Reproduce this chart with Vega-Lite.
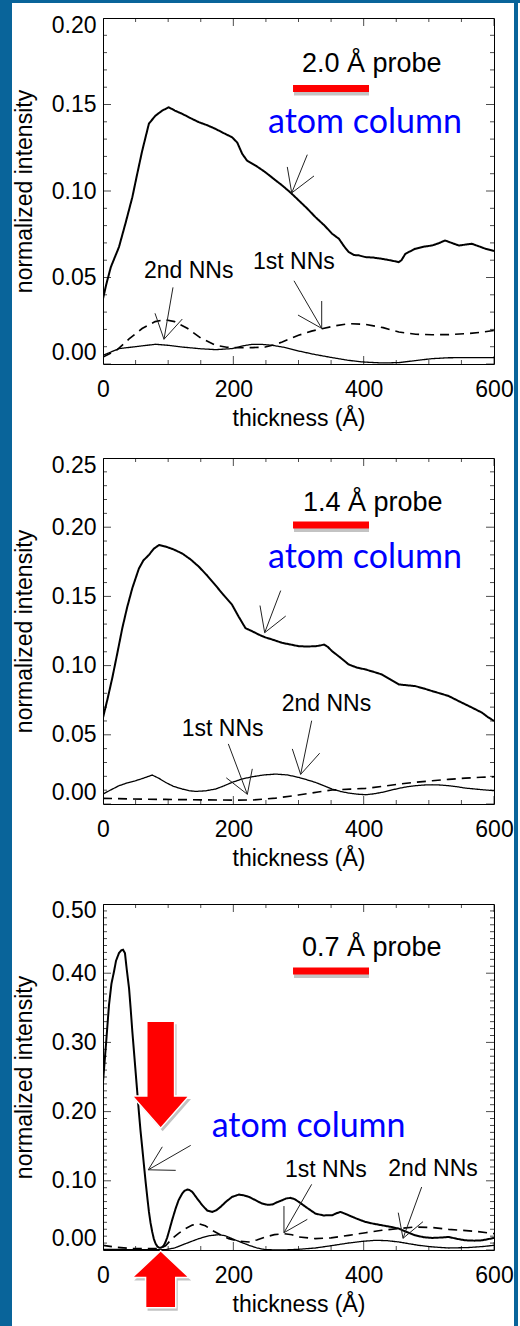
{
"$schema":"https://vega.github.io/schema/vega-lite/v6.json",
"background":"white","padding":0,"autosize":{"type":"pad"},
"config":{"font":"Liberation Sans","view":{"stroke":"black","strokeWidth":1},"axis":{"minExtent":0,"grid":false,"labelColor":"black","titleColor":"black","labelFont":"Liberation Sans","titleFont":"Liberation Sans"},"concat":{"spacing":0}},
"datasets":{
"curves":[
{"p":1,"s":"atom","x":0,"y":0.0377},{"p":1,"s":"atom","x":5,"y":0.046},{"p":1,"s":"atom","x":12,"y":0.056},{"p":1,"s":"atom","x":24.5,"y":0.0676},{"p":1,"s":"atom","x":35,"y":0.082},{"p":1,"s":"atom","x":45,"y":0.0964},{"p":1,"s":"atom","x":52,"y":0.109},{"p":1,"s":"atom","x":60,"y":0.123},{"p":1,"s":"atom","x":70.5,"y":0.139},{"p":1,"s":"atom","x":80.7,"y":0.1436},{"p":1,"s":"atom","x":91,"y":0.1465},{"p":1,"s":"atom","x":101,"y":0.1484},{"p":1,"s":"atom","x":110,"y":0.1465},{"p":1,"s":"atom","x":121.6,"y":0.1446},{"p":1,"s":"atom","x":135,"y":0.142},{"p":1,"s":"atom","x":147,"y":0.1398},{"p":1,"s":"atom","x":160,"y":0.138},{"p":1,"s":"atom","x":172.7,"y":0.1359},{"p":1,"s":"atom","x":185,"y":0.1335},{"p":1,"s":"atom","x":198,"y":0.1311},{"p":1,"s":"atom","x":206,"y":0.128},{"p":1,"s":"atom","x":213.6,"y":0.1215},{"p":1,"s":"atom","x":221,"y":0.1176},{"p":1,"s":"atom","x":235,"y":0.1145},{"p":1,"s":"atom","x":249,"y":0.1109},{"p":1,"s":"atom","x":262,"y":0.107},{"p":1,"s":"atom","x":275,"y":0.1032},{"p":1,"s":"atom","x":288,"y":0.099},{"p":1,"s":"atom","x":300.5,"y":0.0945},{"p":1,"s":"atom","x":313,"y":0.09},{"p":1,"s":"atom","x":326,"y":0.0849},{"p":1,"s":"atom","x":340,"y":0.08},{"p":1,"s":"atom","x":351.6,"y":0.0753},{"p":1,"s":"atom","x":362,"y":0.0724},{"p":1,"s":"atom","x":370,"y":0.068},{"p":1,"s":"atom","x":377,"y":0.0647},{"p":1,"s":"atom","x":385,"y":0.063},{"p":1,"s":"atom","x":392.5,"y":0.0628},{"p":1,"s":"atom","x":402.7,"y":0.0618},{"p":1,"s":"atom","x":415,"y":0.0615},{"p":1,"s":"atom","x":428,"y":0.0608},{"p":1,"s":"atom","x":440,"y":0.06},{"p":1,"s":"atom","x":453.8,"y":0.0589},{"p":1,"s":"atom","x":458,"y":0.06},{"p":1,"s":"atom","x":464,"y":0.0637},{"p":1,"s":"atom","x":479,"y":0.0666},{"p":1,"s":"atom","x":492,"y":0.0678},{"p":1,"s":"atom","x":505,"y":0.0685},{"p":1,"s":"atom","x":515,"y":0.0698},{"p":1,"s":"atom","x":525,"y":0.0714},{"p":1,"s":"atom","x":535,"y":0.07},{"p":1,"s":"atom","x":546,"y":0.0685},{"p":1,"s":"atom","x":556,"y":0.069},{"p":1,"s":"atom","x":566,"y":0.0695},{"p":1,"s":"atom","x":577,"y":0.068},{"p":1,"s":"atom","x":587,"y":0.0666},{"p":1,"s":"atom","x":600,"y":0.0653},
{"p":1,"s":"1st","x":0,"y":0.004},{"p":1,"s":"1st","x":22,"y":0.0083},{"p":1,"s":"1st","x":40,"y":0.0145},{"p":1,"s":"1st","x":60,"y":0.0205},{"p":1,"s":"1st","x":80,"y":0.0245},{"p":1,"s":"1st","x":95,"y":0.0256},{"p":1,"s":"1st","x":110,"y":0.0245},{"p":1,"s":"1st","x":130,"y":0.0205},{"p":1,"s":"1st","x":150,"y":0.015},{"p":1,"s":"1st","x":173,"y":0.0108},{"p":1,"s":"1st","x":190,"y":0.0097},{"p":1,"s":"1st","x":208.5,"y":0.0094},{"p":1,"s":"1st","x":230,"y":0.0095},{"p":1,"s":"1st","x":249,"y":0.0098},{"p":1,"s":"1st","x":262,"y":0.011},{"p":1,"s":"1st","x":275,"y":0.0127},{"p":1,"s":"1st","x":300,"y":0.0166},{"p":1,"s":"1st","x":320,"y":0.019},{"p":1,"s":"1st","x":336,"y":0.0204},{"p":1,"s":"1st","x":355,"y":0.022},{"p":1,"s":"1st","x":377,"y":0.0233},{"p":1,"s":"1st","x":403,"y":0.0229},{"p":1,"s":"1st","x":430,"y":0.021},{"p":1,"s":"1st","x":454,"y":0.0185},{"p":1,"s":"1st","x":480,"y":0.0172},{"p":1,"s":"1st","x":505,"y":0.0169},{"p":1,"s":"1st","x":530,"y":0.017},{"p":1,"s":"1st","x":556,"y":0.0175},{"p":1,"s":"1st","x":580,"y":0.0183},{"p":1,"s":"1st","x":600,"y":0.0194},
{"p":1,"s":"2nd","x":0,"y":0.005},{"p":1,"s":"2nd","x":24.5,"y":0.0089},{"p":1,"s":"2nd","x":45,"y":0.0098},{"p":1,"s":"2nd","x":65,"y":0.0107},{"p":1,"s":"2nd","x":80.7,"y":0.0114},{"p":1,"s":"2nd","x":100,"y":0.0108},{"p":1,"s":"2nd","x":121.6,"y":0.0098},{"p":1,"s":"2nd","x":150,"y":0.0088},{"p":1,"s":"2nd","x":172.7,"y":0.0083},{"p":1,"s":"2nd","x":198,"y":0.0089},{"p":1,"s":"2nd","x":215,"y":0.0105},{"p":1,"s":"2nd","x":229,"y":0.0114},{"p":1,"s":"2nd","x":245,"y":0.0113},{"p":1,"s":"2nd","x":260,"y":0.0108},{"p":1,"s":"2nd","x":280,"y":0.0095},{"p":1,"s":"2nd","x":300.5,"y":0.0075},{"p":1,"s":"2nd","x":325,"y":0.0055},{"p":1,"s":"2nd","x":351.6,"y":0.0037},{"p":1,"s":"2nd","x":375,"y":0.0022},{"p":1,"s":"2nd","x":397.6,"y":0.0012},{"p":1,"s":"2nd","x":428,"y":0.0006},{"p":1,"s":"2nd","x":454,"y":0.0008},{"p":1,"s":"2nd","x":480,"y":0.002},{"p":1,"s":"2nd","x":505,"y":0.0031},{"p":1,"s":"2nd","x":530,"y":0.0036},{"p":1,"s":"2nd","x":556,"y":0.0037},{"p":1,"s":"2nd","x":600,"y":0.0037},
{"p":2,"s":"atom","x":0,"y":0.0624},{"p":2,"s":"atom","x":7,"y":0.076},{"p":2,"s":"atom","x":14.3,"y":0.0912},{"p":2,"s":"atom","x":22,"y":0.109},{"p":2,"s":"atom","x":29.6,"y":0.127},{"p":2,"s":"atom","x":37,"y":0.142},{"p":2,"s":"atom","x":45,"y":0.156},{"p":2,"s":"atom","x":55,"y":0.17},{"p":2,"s":"atom","x":62,"y":0.176},{"p":2,"s":"atom","x":70.5,"y":0.18},{"p":2,"s":"atom","x":78,"y":0.1845},{"p":2,"s":"atom","x":86,"y":0.1871},{"p":2,"s":"atom","x":96,"y":0.186},{"p":2,"s":"atom","x":108,"y":0.184},{"p":2,"s":"atom","x":121.6,"y":0.181},{"p":2,"s":"atom","x":135,"y":0.1765},{"p":2,"s":"atom","x":147,"y":0.1715},{"p":2,"s":"atom","x":160,"y":0.165},{"p":2,"s":"atom","x":172.7,"y":0.158},{"p":2,"s":"atom","x":185,"y":0.151},{"p":2,"s":"atom","x":198,"y":0.144},{"p":2,"s":"atom","x":208,"y":0.1355},{"p":2,"s":"atom","x":218.7,"y":0.127},{"p":2,"s":"atom","x":229,"y":0.1248},{"p":2,"s":"atom","x":240,"y":0.1222},{"p":2,"s":"atom","x":249,"y":0.1204},{"p":2,"s":"atom","x":262,"y":0.1185},{"p":2,"s":"atom","x":275,"y":0.1164},{"p":2,"s":"atom","x":288,"y":0.1152},{"p":2,"s":"atom","x":300.5,"y":0.114},{"p":2,"s":"atom","x":313,"y":0.1138},{"p":2,"s":"atom","x":326,"y":0.114},{"p":2,"s":"atom","x":333,"y":0.1145},{"p":2,"s":"atom","x":339,"y":0.1152},{"p":2,"s":"atom","x":345,"y":0.1135},{"p":2,"s":"atom","x":351.6,"y":0.1104},{"p":2,"s":"atom","x":365,"y":0.1055},{"p":2,"s":"atom","x":377,"y":0.1008},{"p":2,"s":"atom","x":390,"y":0.0985},{"p":2,"s":"atom","x":403,"y":0.0972},{"p":2,"s":"atom","x":415,"y":0.0955},{"p":2,"s":"atom","x":428,"y":0.0936},{"p":2,"s":"atom","x":441,"y":0.09},{"p":2,"s":"atom","x":454,"y":0.0864},{"p":2,"s":"atom","x":466,"y":0.0858},{"p":2,"s":"atom","x":479,"y":0.0852},{"p":2,"s":"atom","x":492,"y":0.0835},{"p":2,"s":"atom","x":505,"y":0.0816},{"p":2,"s":"atom","x":518,"y":0.0798},{"p":2,"s":"atom","x":530.5,"y":0.078},{"p":2,"s":"atom","x":543,"y":0.075},{"p":2,"s":"atom","x":556,"y":0.072},{"p":2,"s":"atom","x":569,"y":0.069},{"p":2,"s":"atom","x":581.6,"y":0.066},{"p":2,"s":"atom","x":590,"y":0.063},{"p":2,"s":"atom","x":600,"y":0.06},
{"p":2,"s":"2nd","x":0,"y":0.0072},{"p":2,"s":"2nd","x":12,"y":0.0102},{"p":2,"s":"2nd","x":24.5,"y":0.0132},{"p":2,"s":"2nd","x":37,"y":0.0152},{"p":2,"s":"2nd","x":50,"y":0.0168},{"p":2,"s":"2nd","x":63,"y":0.0188},{"p":2,"s":"2nd","x":75.6,"y":0.0209},{"p":2,"s":"2nd","x":86,"y":0.0185},{"p":2,"s":"2nd","x":96,"y":0.0156},{"p":2,"s":"2nd","x":108,"y":0.0128},{"p":2,"s":"2nd","x":121.6,"y":0.0108},{"p":2,"s":"2nd","x":132,"y":0.0096},{"p":2,"s":"2nd","x":142,"y":0.0091},{"p":2,"s":"2nd","x":157,"y":0.0095},{"p":2,"s":"2nd","x":172.7,"y":0.0108},{"p":2,"s":"2nd","x":185,"y":0.013},{"p":2,"s":"2nd","x":198,"y":0.0156},{"p":2,"s":"2nd","x":213,"y":0.018},{"p":2,"s":"2nd","x":229,"y":0.0197},{"p":2,"s":"2nd","x":247,"y":0.021},{"p":2,"s":"2nd","x":265,"y":0.0216},{"p":2,"s":"2nd","x":283,"y":0.021},{"p":2,"s":"2nd","x":300.5,"y":0.0192},{"p":2,"s":"2nd","x":313,"y":0.0175},{"p":2,"s":"2nd","x":326,"y":0.0156},{"p":2,"s":"2nd","x":340,"y":0.013},{"p":2,"s":"2nd","x":351.6,"y":0.0108},{"p":2,"s":"2nd","x":365,"y":0.009},{"p":2,"s":"2nd","x":377,"y":0.0079},{"p":2,"s":"2nd","x":390,"y":0.0071},{"p":2,"s":"2nd","x":403,"y":0.0067},{"p":2,"s":"2nd","x":415,"y":0.0073},{"p":2,"s":"2nd","x":428,"y":0.0084},{"p":2,"s":"2nd","x":441,"y":0.0099},{"p":2,"s":"2nd","x":454,"y":0.0113},{"p":2,"s":"2nd","x":466,"y":0.0124},{"p":2,"s":"2nd","x":479,"y":0.0132},{"p":2,"s":"2nd","x":492,"y":0.0137},{"p":2,"s":"2nd","x":505,"y":0.0139},{"p":2,"s":"2nd","x":518,"y":0.0137},{"p":2,"s":"2nd","x":530.5,"y":0.0132},{"p":2,"s":"2nd","x":543,"y":0.0125},{"p":2,"s":"2nd","x":556,"y":0.0115},{"p":2,"s":"2nd","x":578,"y":0.0105},{"p":2,"s":"2nd","x":600,"y":0.0096},
{"p":2,"s":"1st","x":0,"y":0.0041},{"p":2,"s":"1st","x":45,"y":0.0036},{"p":2,"s":"1st","x":96,"y":0.0033},{"p":2,"s":"1st","x":150,"y":0.003},{"p":2,"s":"1st","x":200,"y":0.0028},{"p":2,"s":"1st","x":230,"y":0.0029},{"p":2,"s":"1st","x":265,"y":0.0042},{"p":2,"s":"1st","x":300,"y":0.0065},{"p":2,"s":"1st","x":330,"y":0.0087},{"p":2,"s":"1st","x":351.6,"y":0.0101},{"p":2,"s":"1st","x":380,"y":0.0108},{"p":2,"s":"1st","x":403,"y":0.0113},{"p":2,"s":"1st","x":430,"y":0.0128},{"p":2,"s":"1st","x":454,"y":0.0144},{"p":2,"s":"1st","x":480,"y":0.0157},{"p":2,"s":"1st","x":505,"y":0.0168},{"p":2,"s":"1st","x":530,"y":0.0178},{"p":2,"s":"1st","x":556,"y":0.0187},{"p":2,"s":"1st","x":580,"y":0.0193},{"p":2,"s":"1st","x":600,"y":0.0197},
{"p":3,"s":"atom","x":0,"y":0.243},{"p":3,"s":"atom","x":4,"y":0.29},{"p":3,"s":"atom","x":9.2,"y":0.354},{"p":3,"s":"atom","x":13,"y":0.385},{"p":3,"s":"atom","x":16.9,"y":0.4025},{"p":3,"s":"atom","x":20,"y":0.418},{"p":3,"s":"atom","x":24.5,"y":0.429},{"p":3,"s":"atom","x":28,"y":0.433},{"p":3,"s":"atom","x":30.7,"y":0.434},{"p":3,"s":"atom","x":33.7,"y":0.429},{"p":3,"s":"atom","x":36.5,"y":0.405},{"p":3,"s":"atom","x":40,"y":0.378},{"p":3,"s":"atom","x":42.5,"y":0.348},{"p":3,"s":"atom","x":45,"y":0.316},{"p":3,"s":"atom","x":47.5,"y":0.287},{"p":3,"s":"atom","x":50,"y":0.258},{"p":3,"s":"atom","x":52.5,"y":0.229},{"p":3,"s":"atom","x":55,"y":0.2},{"p":3,"s":"atom","x":57.5,"y":0.173},{"p":3,"s":"atom","x":60.3,"y":0.147},{"p":3,"s":"atom","x":63,"y":0.121},{"p":3,"s":"atom","x":65.4,"y":0.0985},{"p":3,"s":"atom","x":68,"y":0.076},{"p":3,"s":"atom","x":70.5,"y":0.055},{"p":3,"s":"atom","x":73,"y":0.039},{"p":3,"s":"atom","x":75.6,"y":0.026},{"p":3,"s":"atom","x":78,"y":0.016},{"p":3,"s":"atom","x":80.7,"y":0.0092},{"p":3,"s":"atom","x":83.5,"y":0.005},{"p":3,"s":"atom","x":86,"y":0.0034},{"p":3,"s":"atom","x":88.5,"y":0.0032},{"p":3,"s":"atom","x":91,"y":0.0043},{"p":3,"s":"atom","x":93.5,"y":0.007},{"p":3,"s":"atom","x":96,"y":0.0116},{"p":3,"s":"atom","x":98.5,"y":0.018},{"p":3,"s":"atom","x":101,"y":0.026},{"p":3,"s":"atom","x":106,"y":0.043},{"p":3,"s":"atom","x":111.4,"y":0.0598},{"p":3,"s":"atom","x":116,"y":0.072},{"p":3,"s":"atom","x":121.6,"y":0.0816},{"p":3,"s":"atom","x":125,"y":0.0855},{"p":3,"s":"atom","x":129.3,"y":0.0874},{"p":3,"s":"atom","x":133,"y":0.0865},{"p":3,"s":"atom","x":137,"y":0.084},{"p":3,"s":"atom","x":144,"y":0.075},{"p":3,"s":"atom","x":152.3,"y":0.0647},{"p":3,"s":"atom","x":160,"y":0.057},{"p":3,"s":"atom","x":167.6,"y":0.055},{"p":3,"s":"atom","x":174,"y":0.0575},{"p":3,"s":"atom","x":180.4,"y":0.0623},{"p":3,"s":"atom","x":189,"y":0.07},{"p":3,"s":"atom","x":198,"y":0.0767},{"p":3,"s":"atom","x":208.5,"y":0.0801},{"p":3,"s":"atom","x":216,"y":0.079},{"p":3,"s":"atom","x":224,"y":0.0767},{"p":3,"s":"atom","x":234,"y":0.072},{"p":3,"s":"atom","x":244,"y":0.0671},{"p":3,"s":"atom","x":252,"y":0.0655},{"p":3,"s":"atom","x":259.6,"y":0.0656},{"p":3,"s":"atom","x":267,"y":0.069},{"p":3,"s":"atom","x":275,"y":0.0719},{"p":3,"s":"atom","x":281,"y":0.0745},{"p":3,"s":"atom","x":287.8,"y":0.0753},{"p":3,"s":"atom","x":294,"y":0.0735},{"p":3,"s":"atom","x":300.5,"y":0.0695},{"p":3,"s":"atom","x":313,"y":0.061},{"p":3,"s":"atom","x":326,"y":0.0526},{"p":3,"s":"atom","x":338,"y":0.05},{"p":3,"s":"atom","x":351.6,"y":0.0502},{"p":3,"s":"atom","x":358,"y":0.053},{"p":3,"s":"atom","x":364.4,"y":0.055},{"p":3,"s":"atom","x":370,"y":0.053},{"p":3,"s":"atom","x":377,"y":0.0502},{"p":3,"s":"atom","x":390,"y":0.045},{"p":3,"s":"atom","x":403,"y":0.0405},{"p":3,"s":"atom","x":415,"y":0.038},{"p":3,"s":"atom","x":428,"y":0.0357},{"p":3,"s":"atom","x":441,"y":0.0335},{"p":3,"s":"atom","x":454,"y":0.0309},{"p":3,"s":"atom","x":466,"y":0.026},{"p":3,"s":"atom","x":479,"y":0.0212},{"p":3,"s":"atom","x":492,"y":0.0185},{"p":3,"s":"atom","x":505,"y":0.0174},{"p":3,"s":"atom","x":518,"y":0.018},{"p":3,"s":"atom","x":530.5,"y":0.0188},{"p":3,"s":"atom","x":543,"y":0.0162},{"p":3,"s":"atom","x":556,"y":0.014},{"p":3,"s":"atom","x":570,"y":0.0135},{"p":3,"s":"atom","x":581.6,"y":0.014},{"p":3,"s":"atom","x":590,"y":0.0155},{"p":3,"s":"atom","x":600,"y":0.0174},
{"p":3,"s":"1st","x":0,"y":0.0068},{"p":3,"s":"1st","x":20,"y":0.004},{"p":3,"s":"1st","x":45,"y":0.002},{"p":3,"s":"1st","x":86,"y":0.002},{"p":3,"s":"1st","x":96,"y":0.006},{"p":3,"s":"1st","x":106,"y":0.0164},{"p":3,"s":"1st","x":116,"y":0.024},{"p":3,"s":"1st","x":126.8,"y":0.0309},{"p":3,"s":"1st","x":137,"y":0.036},{"p":3,"s":"1st","x":147,"y":0.0381},{"p":3,"s":"1st","x":157,"y":0.035},{"p":3,"s":"1st","x":167.6,"y":0.0285},{"p":3,"s":"1st","x":180,"y":0.022},{"p":3,"s":"1st","x":193,"y":0.0164},{"p":3,"s":"1st","x":208,"y":0.013},{"p":3,"s":"1st","x":224,"y":0.0116},{"p":3,"s":"1st","x":236,"y":0.0145},{"p":3,"s":"1st","x":249,"y":0.0188},{"p":3,"s":"1st","x":263,"y":0.0222},{"p":3,"s":"1st","x":277.7,"y":0.0236},{"p":3,"s":"1st","x":290,"y":0.022},{"p":3,"s":"1st","x":300.5,"y":0.0188},{"p":3,"s":"1st","x":326,"y":0.0164},{"p":3,"s":"1st","x":350,"y":0.0175},{"p":3,"s":"1st","x":377,"y":0.0212},{"p":3,"s":"1st","x":403,"y":0.025},{"p":3,"s":"1st","x":428,"y":0.0285},{"p":3,"s":"1st","x":454,"y":0.031},{"p":3,"s":"1st","x":479,"y":0.0333},{"p":3,"s":"1st","x":505,"y":0.0325},{"p":3,"s":"1st","x":530.5,"y":0.0299},{"p":3,"s":"1st","x":550,"y":0.0285},{"p":3,"s":"1st","x":571,"y":0.027},{"p":3,"s":"1st","x":600,"y":0.0236},
{"p":3,"s":"2nd","x":0,"y":0.001},{"p":3,"s":"2nd","x":50,"y":0.0005},{"p":3,"s":"2nd","x":96,"y":0.0005},{"p":3,"s":"2nd","x":110,"y":0.003},{"p":3,"s":"2nd","x":126.8,"y":0.0092},{"p":3,"s":"2nd","x":147,"y":0.0164},{"p":3,"s":"2nd","x":162,"y":0.0205},{"p":3,"s":"2nd","x":178,"y":0.0222},{"p":3,"s":"2nd","x":188,"y":0.0205},{"p":3,"s":"2nd","x":198,"y":0.0164},{"p":3,"s":"2nd","x":211,"y":0.0115},{"p":3,"s":"2nd","x":224,"y":0.0068},{"p":3,"s":"2nd","x":236,"y":0.003},{"p":3,"s":"2nd","x":249,"y":0.0005},{"p":3,"s":"2nd","x":275,"y":0},{"p":3,"s":"2nd","x":300,"y":0.001},{"p":3,"s":"2nd","x":326,"y":0.0029},{"p":3,"s":"2nd","x":350,"y":0.0062},{"p":3,"s":"2nd","x":377,"y":0.0101},{"p":3,"s":"2nd","x":398,"y":0.0125},{"p":3,"s":"2nd","x":418,"y":0.014},{"p":3,"s":"2nd","x":436,"y":0.0135},{"p":3,"s":"2nd","x":454,"y":0.0116},{"p":3,"s":"2nd","x":470,"y":0.009},{"p":3,"s":"2nd","x":484,"y":0.0068},{"p":3,"s":"2nd","x":505,"y":0.0045},{"p":3,"s":"2nd","x":530.5,"y":0.0029},{"p":3,"s":"2nd","x":560,"y":0.0035},{"p":3,"s":"2nd","x":585,"y":0.0052},{"p":3,"s":"2nd","x":600,"y":0.0068}
],
"arrows":[
{"p":1,"x":313.5,"y":0.121,"x2":289.6,"y2":0.0989},{"p":1,"x":289.6,"y":0.0989,"x2":282.8,"y2":0.1139},{"p":1,"x":289.6,"y":0.0989,"x2":323.8,"y2":0.1087},
{"p":1,"x":107.4,"y":0.0443,"x2":93.6,"y2":0.0143},{"p":1,"x":93.6,"y":0.0143,"x2":79.8,"y2":0.0293},{"p":1,"x":93.6,"y":0.0143,"x2":121.7,"y2":0.026},
{"p":1,"x":293.1,"y":0.0481,"x2":335.6,"y2":0.0206},{"p":1,"x":335.6,"y":0.0206,"x2":299.2,"y2":0.0283},{"p":1,"x":335.6,"y":0.0206,"x2":335.6,"y2":0.0364},
{"p":2,"x":272.7,"y":0.1542,"x2":248.1,"y2":0.1238},{"p":2,"x":248.1,"y":0.1238,"x2":240.9,"y2":0.1434},{"p":2,"x":248.1,"y":0.1238,"x2":280.4,"y2":0.1358},
{"p":2,"x":192.3,"y":0.0434,"x2":221.5,"y2":0.007},{"p":2,"x":221.5,"y":0.007,"x2":189.2,"y2":0.0189},{"p":2,"x":221.5,"y":0.007,"x2":229.1,"y2":0.0254},
{"p":2,"x":320.2,"y":0.0602,"x2":303.3,"y2":0.0214},{"p":2,"x":303.3,"y":0.0214,"x2":290.5,"y2":0.0398},{"p":2,"x":303.3,"y":0.0214,"x2":332.5,"y2":0.0367},
{"p":3,"x":134.6,"y":0.1512,"x2":69.5,"y2":0.1159},{"p":3,"x":69.5,"y":0.1159,"x2":91,"y2":0.1491},{"p":3,"x":69.5,"y":0.1159,"x2":111.6,"y2":0.1151},
{"p":3,"x":320.2,"y":0.0949,"x2":277.7,"y2":0.025},{"p":3,"x":277.7,"y":0.025,"x2":277.7,"y2":0.0635},{"p":3,"x":277.7,"y":0.025,"x2":313.5,"y2":0.0443},
{"p":3,"x":489,"y":0.091,"x2":460.4,"y2":0.0169},{"p":3,"x":460.4,"y":0.0169,"x2":453.1,"y2":0.0539},{"p":3,"x":460.4,"y":0.0169,"x2":491,"y2":0.0409}
],
"labels":[
{"p":1,"kind":"probe","text":"2.0 Å probe","x":305.4,"y":0.169},{"p":1,"kind":"atom","text":"atom column","x":253.2,"y":0.1335},{"p":1,"kind":"nn","text":"2nd NNs","x":62.9,"y":0.0495},{"p":1,"kind":"nn","text":"1st NNs","x":230.2,"y":0.0552},
{"p":2,"kind":"probe","text":"1.4 Å probe","x":306.9,"y":0.2114},{"p":2,"kind":"atom","text":"atom column","x":253.2,"y":0.1706},{"p":2,"kind":"nn","text":"1st NNs","x":120.8,"y":0.0494},{"p":2,"kind":"nn","text":"2nd NNs","x":274.2,"y":0.0674},
{"p":3,"kind":"probe","text":"0.7 Å probe","x":305.4,"y":0.4245},{"p":3,"kind":"atom","text":"atom column","x":166.8,"y":0.163},{"p":3,"kind":"nn","text":"1st NNs","x":279.3,"y":0.1054},{"p":3,"kind":"nn","text":"2nd NNs","x":437.8,"y":0.1068}
],
"bars":[{"p":1,"x":291.6,"x2":408.2,"y":0.1593},{"p":2,"x":291.6,"x2":408.2,"y":0.2015},{"p":3,"x":291.6,"x2":408.2,"y":0.4033}],
"blocks":[{"dir":"down","x":88.5,"y":0.2534},{"dir":"up","x":88.5,"y":-0.0423}],
"xt":[{"v":0,"m":"major"},{"v":50,"m":"minor"},{"v":100,"m":"minor"},{"v":150,"m":"minor"},{"v":200,"m":"major"},{"v":250,"m":"minor"},{"v":300,"m":"minor"},{"v":350,"m":"minor"},{"v":400,"m":"major"},{"v":450,"m":"minor"},{"v":500,"m":"minor"},{"v":550,"m":"minor"},{"v":600,"m":"major"}],
"yt":[
{"p":1,"v":0,"m":"major"},{"p":1,"v":0.01,"m":"minor"},{"p":1,"v":0.02,"m":"minor"},{"p":1,"v":0.03,"m":"minor"},{"p":1,"v":0.04,"m":"minor"},{"p":1,"v":0.05,"m":"major"},{"p":1,"v":0.06,"m":"minor"},{"p":1,"v":0.07,"m":"minor"},{"p":1,"v":0.08,"m":"minor"},{"p":1,"v":0.09,"m":"minor"},{"p":1,"v":0.1,"m":"major"},{"p":1,"v":0.11,"m":"minor"},{"p":1,"v":0.12,"m":"minor"},{"p":1,"v":0.13,"m":"minor"},{"p":1,"v":0.14,"m":"minor"},{"p":1,"v":0.15,"m":"major"},{"p":1,"v":0.16,"m":"minor"},{"p":1,"v":0.17,"m":"minor"},{"p":1,"v":0.18,"m":"minor"},{"p":1,"v":0.19,"m":"minor"},{"p":1,"v":0.2,"m":"major"},
{"p":2,"v":0,"m":"major"},{"p":2,"v":0.01,"m":"minor"},{"p":2,"v":0.02,"m":"minor"},{"p":2,"v":0.03,"m":"minor"},{"p":2,"v":0.04,"m":"minor"},{"p":2,"v":0.05,"m":"major"},{"p":2,"v":0.06,"m":"minor"},{"p":2,"v":0.07,"m":"minor"},{"p":2,"v":0.08,"m":"minor"},{"p":2,"v":0.09,"m":"minor"},{"p":2,"v":0.1,"m":"major"},{"p":2,"v":0.11,"m":"minor"},{"p":2,"v":0.12,"m":"minor"},{"p":2,"v":0.13,"m":"minor"},{"p":2,"v":0.14,"m":"minor"},{"p":2,"v":0.15,"m":"major"},{"p":2,"v":0.16,"m":"minor"},{"p":2,"v":0.17,"m":"minor"},{"p":2,"v":0.18,"m":"minor"},{"p":2,"v":0.19,"m":"minor"},{"p":2,"v":0.2,"m":"major"},{"p":2,"v":0.21,"m":"minor"},{"p":2,"v":0.22,"m":"minor"},{"p":2,"v":0.23,"m":"minor"},{"p":2,"v":0.24,"m":"minor"},{"p":2,"v":0.25,"m":"major"},
{"p":3,"v":0,"m":"major"},{"p":3,"v":0.01,"m":"minor"},{"p":3,"v":0.02,"m":"minor"},{"p":3,"v":0.03,"m":"minor"},{"p":3,"v":0.04,"m":"minor"},{"p":3,"v":0.05,"m":"minor"},{"p":3,"v":0.06,"m":"minor"},{"p":3,"v":0.07,"m":"minor"},{"p":3,"v":0.08,"m":"minor"},{"p":3,"v":0.09,"m":"minor"},{"p":3,"v":0.1,"m":"major"},{"p":3,"v":0.11,"m":"minor"},{"p":3,"v":0.12,"m":"minor"},{"p":3,"v":0.13,"m":"minor"},{"p":3,"v":0.14,"m":"minor"},{"p":3,"v":0.15,"m":"minor"},{"p":3,"v":0.16,"m":"minor"},{"p":3,"v":0.17,"m":"minor"},{"p":3,"v":0.18,"m":"minor"},{"p":3,"v":0.19,"m":"minor"},{"p":3,"v":0.2,"m":"major"},{"p":3,"v":0.21,"m":"minor"},{"p":3,"v":0.22,"m":"minor"},{"p":3,"v":0.23,"m":"minor"},{"p":3,"v":0.24,"m":"minor"},{"p":3,"v":0.25,"m":"minor"},{"p":3,"v":0.26,"m":"minor"},{"p":3,"v":0.27,"m":"minor"},{"p":3,"v":0.28,"m":"minor"},{"p":3,"v":0.29,"m":"minor"},{"p":3,"v":0.3,"m":"major"},{"p":3,"v":0.31,"m":"minor"},{"p":3,"v":0.32,"m":"minor"},{"p":3,"v":0.33,"m":"minor"},{"p":3,"v":0.34,"m":"minor"},{"p":3,"v":0.35,"m":"minor"},{"p":3,"v":0.36,"m":"minor"},{"p":3,"v":0.37,"m":"minor"},{"p":3,"v":0.38,"m":"minor"},{"p":3,"v":0.39,"m":"minor"},{"p":3,"v":0.4,"m":"major"},{"p":3,"v":0.41,"m":"minor"},{"p":3,"v":0.42,"m":"minor"},{"p":3,"v":0.43,"m":"minor"},{"p":3,"v":0.44,"m":"minor"},{"p":3,"v":0.45,"m":"minor"},{"p":3,"v":0.46,"m":"minor"},{"p":3,"v":0.47,"m":"minor"},{"p":3,"v":0.48,"m":"minor"},{"p":3,"v":0.49,"m":"minor"},{"p":3,"v":0.5,"m":"major"}
],
"one":[{"k":1}]
},
"vconcat":[
{"width":520,"height":3,"view":{"stroke":null},"data":{"name":"one"},"mark":{"type":"rect","color":"#09649a"},
 "encoding":{"x":{"datum":0,"type":"quantitative","scale":{"domain":[0,1],"nice":false},"axis":null},"x2":{"datum":1},"y":{"datum":0,"type":"quantitative","scale":{"domain":[0,1],"nice":false},"axis":null},"y2":{"datum":1}}},
{"hconcat":[
{"width":12,"height":1323,"view":{"stroke":null},"data":{"name":"one"},"mark":{"type":"rect","color":"#09649a"},
 "encoding":{"x":{"datum":0,"type":"quantitative","scale":{"domain":[0,1],"nice":false,"zero":false},"axis":null},"x2":{"datum":1},"y":{"datum":0,"type":"quantitative","scale":{"domain":[0,1],"nice":false},"axis":null},"y2":{"datum":1}}},
{"spacing":9,"vconcat":[
 {"width":1,"height":1,"view":{"stroke":null},"data":{"name":"one"},"mark":{"type":"rect","opacity":0},
  "encoding":{"x":{"datum":0,"type":"quantitative","scale":{"domain":[0,1],"nice":false},"axis":null},"x2":{"datum":1},"y":{"datum":0,"type":"quantitative","scale":{"domain":[0,1],"nice":false},"axis":null},"y2":{"datum":1}}},
 {"spacing":22,"vconcat":[
  {"width":391,"height":346,"resolve":{"axis":{"x":"independent","y":"independent"}},"layer":[
   {"data":{"name":"curves"},"transform":[{"filter":"datum.p===1"}],"mark":{"type":"line","color":"black","clip":true},
    "encoding":{"x":{"field":"x","type":"quantitative","scale":{"domain":[0,600],"nice":false,"zero":false},"axis":{"orient":"bottom","values":[0,200,400,600],"format":"d","ticks":false,"domain":false,"labelFlush":false,"labelOverlap":false,"labelPadding":14,"labelFontSize":23,"title":"thickness (Å)","titleFontSize":23,"titleFontWeight":"normal","titlePadding":6}},
     "y":{"field":"y","type":"quantitative","scale":{"domain":[0,0.2],"nice":false,"zero":false},"axis":{"orient":"left","values":[0,0.05,0.1,0.15,0.2],"format":".2f","ticks":false,"domain":false,"labelFlush":false,"labelOverlap":false,"labelPadding":7,"labelFontSize":23,"labelBaseline":{"condition":{"test":"datum.value===0","value":"bottom"},"value":"middle"},"labelOffset":{"condition":{"test":"datum.value===0.2","value":7},"value":0},"title":"normalized intensity","titleFontSize":23,"titleFontWeight":"normal","titlePadding":15}},
     "strokeDash":{"field":"s","type":"nominal","scale":{"domain":["atom","1st","2nd"],"range":[[1,0],[9,6],[1,0]]},"legend":null},
     "strokeWidth":{"field":"s","type":"nominal","scale":{"domain":["atom","1st","2nd"],"range":[2,1.3,1.5]},"legend":null}}},
   {"data":{"name":"xt"},"mark":{"type":"tick","orient":"vertical","color":"black","thickness":1,"clip":true},
    "encoding":{"x":{"field":"v","type":"quantitative","scale":{"domain":[0,600],"nice":false,"zero":false},"axis":null},"y":{"datum":0,"type":"quantitative","scale":{"domain":[0,0.2],"nice":false,"zero":false},"axis":null},"size":{"field":"m","type":"ordinal","scale":{"domain":["major","minor"],"range":[16,8]},"legend":null}}},
   {"data":{"name":"xt"},"mark":{"type":"tick","orient":"vertical","color":"black","thickness":1,"clip":true},
    "encoding":{"x":{"field":"v","type":"quantitative","scale":{"domain":[0,600],"nice":false,"zero":false},"axis":null},"y":{"datum":0.2,"type":"quantitative","scale":{"domain":[0,0.2],"nice":false,"zero":false},"axis":null},"size":{"field":"m","type":"ordinal","scale":{"domain":["major","minor"],"range":[16,8]},"legend":null}}},
   {"data":{"name":"yt"},"transform":[{"filter":"datum.p===1"}],"mark":{"type":"tick","orient":"horizontal","color":"black","thickness":1,"clip":true},
    "encoding":{"y":{"field":"v","type":"quantitative","scale":{"domain":[0,0.2],"nice":false,"zero":false},"axis":null},"x":{"datum":0,"type":"quantitative","scale":{"domain":[0,600],"nice":false,"zero":false},"axis":null},"size":{"field":"m","type":"ordinal","scale":{"domain":["major","minor"],"range":[16,8]},"legend":null}}},
   {"data":{"name":"yt"},"transform":[{"filter":"datum.p===1"}],"mark":{"type":"tick","orient":"horizontal","color":"black","thickness":1,"clip":true},
    "encoding":{"y":{"field":"v","type":"quantitative","scale":{"domain":[0,0.2],"nice":false,"zero":false},"axis":null},"x":{"datum":600,"type":"quantitative","scale":{"domain":[0,600],"nice":false,"zero":false},"axis":null},"size":{"field":"m","type":"ordinal","scale":{"domain":["major","minor"],"range":[16,8]},"legend":null}}},
   {"data":{"name":"arrows"},"transform":[{"filter":"datum.p===1"}],"mark":{"type":"rule","color":"#222","strokeWidth":1},
    "encoding":{"x":{"field":"x","type":"quantitative","scale":{"domain":[0,600],"nice":false,"zero":false},"axis":null},"x2":{"field":"x2"},
     "y":{"field":"y","type":"quantitative","scale":{"domain":[0,0.2],"nice":false,"zero":false},"axis":null},"y2":{"field":"y2"}}},
   {"data":{"name":"labels"},"transform":[{"filter":"datum.p===1 && datum.kind==='nn'"}],"mark":{"type":"text","font":"Liberation Sans","fontSize":23,"align":"left","baseline":"alphabetic","color":"black"},
    "encoding":{"x":{"field":"x","type":"quantitative","scale":{"domain":[0,600],"nice":false,"zero":false},"axis":null},
     "y":{"field":"y","type":"quantitative","scale":{"domain":[0,0.2],"nice":false,"zero":false},"axis":null},"text":{"field":"text"}}},
   {"data":{"name":"labels"},"transform":[{"filter":"datum.p===1 && datum.kind==='probe'"}],"mark":{"type":"text","font":"Liberation Sans","fontSize":27,"align":"left","baseline":"alphabetic","color":"black"},
    "encoding":{"x":{"field":"x","type":"quantitative","scale":{"domain":[0,600],"nice":false,"zero":false},"axis":null},
     "y":{"field":"y","type":"quantitative","scale":{"domain":[0,0.2],"nice":false,"zero":false},"axis":null},"text":{"field":"text"}}},
   {"data":{"name":"bars"},"transform":[{"filter":"datum.p===1"}],"mark":{"type":"rule","color":"#888","opacity":0.5,"strokeWidth":6,"yOffset":4,"xOffset":1},
    "encoding":{"x":{"field":"x","type":"quantitative","scale":{"domain":[0,600],"nice":false,"zero":false},"axis":null},"x2":{"field":"x2"},
     "y":{"field":"y","type":"quantitative","scale":{"domain":[0,0.2],"nice":false,"zero":false},"axis":null}}},
   {"data":{"name":"bars"},"transform":[{"filter":"datum.p===1"}],"mark":{"type":"rule","color":"#ff0000","strokeWidth":7},
    "encoding":{"x":{"field":"x","type":"quantitative","scale":{"domain":[0,600],"nice":false,"zero":false},"axis":null},"x2":{"field":"x2"},
     "y":{"field":"y","type":"quantitative","scale":{"domain":[0,0.2],"nice":false,"zero":false},"axis":null}}},
   {"data":{"name":"labels"},"transform":[{"filter":"datum.p===1 && datum.kind==='atom'"}],"mark":{"type":"text","font":"Lato","fontSize":34,"align":"left","baseline":"alphabetic","color":"#0000ff"},
    "encoding":{"x":{"field":"x","type":"quantitative","scale":{"domain":[0,600],"nice":false,"zero":false},"axis":null},
     "y":{"field":"y","type":"quantitative","scale":{"domain":[0,0.2],"nice":false,"zero":false},"axis":null},"text":{"field":"text"}}}
  ]},
  {"spacing":27,"vconcat":[
  {"width":391,"height":346,"resolve":{"axis":{"x":"independent","y":"independent"}},"layer":[
   {"data":{"name":"curves"},"transform":[{"filter":"datum.p===2"}],"mark":{"type":"line","color":"black","clip":true},
    "encoding":{"x":{"field":"x","type":"quantitative","scale":{"domain":[0,600],"nice":false,"zero":false},"axis":{"orient":"bottom","values":[0,200,400,600],"format":"d","ticks":false,"domain":false,"labelFlush":false,"labelOverlap":false,"labelPadding":14,"labelFontSize":23,"title":"thickness (Å)","titleFontSize":23,"titleFontWeight":"normal","titlePadding":6}},
     "y":{"field":"y","type":"quantitative","scale":{"domain":[0,0.25],"nice":false,"zero":false},"axis":{"orient":"left","values":[0,0.05,0.1,0.15,0.2,0.25],"format":".2f","ticks":false,"domain":false,"labelFlush":false,"labelOverlap":false,"labelPadding":7,"labelFontSize":23,"labelBaseline":{"condition":{"test":"datum.value===0","value":"bottom"},"value":"middle"},"labelOffset":{"condition":{"test":"datum.value===0.25","value":7},"value":0},"title":"normalized intensity","titleFontSize":23,"titleFontWeight":"normal","titlePadding":15}},
     "strokeDash":{"field":"s","type":"nominal","scale":{"domain":["atom","1st","2nd"],"range":[[1,0],[9,6],[1,0]]},"legend":null},
     "strokeWidth":{"field":"s","type":"nominal","scale":{"domain":["atom","1st","2nd"],"range":[2,1.3,1.5]},"legend":null}}},
   {"data":{"name":"xt"},"mark":{"type":"tick","orient":"vertical","color":"black","thickness":1,"clip":true},
    "encoding":{"x":{"field":"v","type":"quantitative","scale":{"domain":[0,600],"nice":false,"zero":false},"axis":null},"y":{"datum":0,"type":"quantitative","scale":{"domain":[0,0.25],"nice":false,"zero":false},"axis":null},"size":{"field":"m","type":"ordinal","scale":{"domain":["major","minor"],"range":[16,8]},"legend":null}}},
   {"data":{"name":"xt"},"mark":{"type":"tick","orient":"vertical","color":"black","thickness":1,"clip":true},
    "encoding":{"x":{"field":"v","type":"quantitative","scale":{"domain":[0,600],"nice":false,"zero":false},"axis":null},"y":{"datum":0.25,"type":"quantitative","scale":{"domain":[0,0.25],"nice":false,"zero":false},"axis":null},"size":{"field":"m","type":"ordinal","scale":{"domain":["major","minor"],"range":[16,8]},"legend":null}}},
   {"data":{"name":"yt"},"transform":[{"filter":"datum.p===2"}],"mark":{"type":"tick","orient":"horizontal","color":"black","thickness":1,"clip":true},
    "encoding":{"y":{"field":"v","type":"quantitative","scale":{"domain":[0,0.25],"nice":false,"zero":false},"axis":null},"x":{"datum":0,"type":"quantitative","scale":{"domain":[0,600],"nice":false,"zero":false},"axis":null},"size":{"field":"m","type":"ordinal","scale":{"domain":["major","minor"],"range":[16,8]},"legend":null}}},
   {"data":{"name":"yt"},"transform":[{"filter":"datum.p===2"}],"mark":{"type":"tick","orient":"horizontal","color":"black","thickness":1,"clip":true},
    "encoding":{"y":{"field":"v","type":"quantitative","scale":{"domain":[0,0.25],"nice":false,"zero":false},"axis":null},"x":{"datum":600,"type":"quantitative","scale":{"domain":[0,600],"nice":false,"zero":false},"axis":null},"size":{"field":"m","type":"ordinal","scale":{"domain":["major","minor"],"range":[16,8]},"legend":null}}},
   {"data":{"name":"arrows"},"transform":[{"filter":"datum.p===2"}],"mark":{"type":"rule","color":"#222","strokeWidth":1},
    "encoding":{"x":{"field":"x","type":"quantitative","scale":{"domain":[0,600],"nice":false,"zero":false},"axis":null},"x2":{"field":"x2"},
     "y":{"field":"y","type":"quantitative","scale":{"domain":[0,0.25],"nice":false,"zero":false},"axis":null},"y2":{"field":"y2"}}},
   {"data":{"name":"labels"},"transform":[{"filter":"datum.p===2 && datum.kind==='nn'"}],"mark":{"type":"text","font":"Liberation Sans","fontSize":23,"align":"left","baseline":"alphabetic","color":"black"},
    "encoding":{"x":{"field":"x","type":"quantitative","scale":{"domain":[0,600],"nice":false,"zero":false},"axis":null},
     "y":{"field":"y","type":"quantitative","scale":{"domain":[0,0.25],"nice":false,"zero":false},"axis":null},"text":{"field":"text"}}},
   {"data":{"name":"labels"},"transform":[{"filter":"datum.p===2 && datum.kind==='probe'"}],"mark":{"type":"text","font":"Liberation Sans","fontSize":27,"align":"left","baseline":"alphabetic","color":"black"},
    "encoding":{"x":{"field":"x","type":"quantitative","scale":{"domain":[0,600],"nice":false,"zero":false},"axis":null},
     "y":{"field":"y","type":"quantitative","scale":{"domain":[0,0.25],"nice":false,"zero":false},"axis":null},"text":{"field":"text"}}},
   {"data":{"name":"bars"},"transform":[{"filter":"datum.p===2"}],"mark":{"type":"rule","color":"#888","opacity":0.5,"strokeWidth":6,"yOffset":4,"xOffset":1},
    "encoding":{"x":{"field":"x","type":"quantitative","scale":{"domain":[0,600],"nice":false,"zero":false},"axis":null},"x2":{"field":"x2"},
     "y":{"field":"y","type":"quantitative","scale":{"domain":[0,0.25],"nice":false,"zero":false},"axis":null}}},
   {"data":{"name":"bars"},"transform":[{"filter":"datum.p===2"}],"mark":{"type":"rule","color":"#ff0000","strokeWidth":7},
    "encoding":{"x":{"field":"x","type":"quantitative","scale":{"domain":[0,600],"nice":false,"zero":false},"axis":null},"x2":{"field":"x2"},
     "y":{"field":"y","type":"quantitative","scale":{"domain":[0,0.25],"nice":false,"zero":false},"axis":null}}},
   {"data":{"name":"labels"},"transform":[{"filter":"datum.p===2 && datum.kind==='atom'"}],"mark":{"type":"text","font":"Lato","fontSize":34,"align":"left","baseline":"alphabetic","color":"#0000ff"},
    "encoding":{"x":{"field":"x","type":"quantitative","scale":{"domain":[0,600],"nice":false,"zero":false},"axis":null},
     "y":{"field":"y","type":"quantitative","scale":{"domain":[0,0.25],"nice":false,"zero":false},"axis":null},"text":{"field":"text"}}}
  ]},
  {"width":391,"height":346,"resolve":{"axis":{"x":"independent","y":"independent"}},"layer":[
   {"data":{"name":"curves"},"transform":[{"filter":"datum.p===3"}],"mark":{"type":"line","color":"black","clip":true},
    "encoding":{"x":{"field":"x","type":"quantitative","scale":{"domain":[0,600],"nice":false,"zero":false},"axis":{"orient":"bottom","values":[0,200,400,600],"format":"d","ticks":false,"domain":false,"labelFlush":false,"labelOverlap":false,"labelPadding":14,"labelFontSize":23,"title":"thickness (Å)","titleFontSize":23,"titleFontWeight":"normal","titlePadding":6}},
     "y":{"field":"y","type":"quantitative","scale":{"domain":[0,0.5],"nice":false,"zero":false},"axis":{"orient":"left","values":[0,0.1,0.2,0.3,0.4,0.5],"format":".2f","ticks":false,"domain":false,"labelFlush":false,"labelOverlap":false,"labelPadding":7,"labelFontSize":23,"labelBaseline":{"condition":{"test":"datum.value===0","value":"bottom"},"value":"middle"},"labelOffset":{"condition":{"test":"datum.value===0.5","value":6},"value":0},"title":"normalized intensity","titleFontSize":23,"titleFontWeight":"normal","titlePadding":15}},
     "strokeDash":{"field":"s","type":"nominal","scale":{"domain":["atom","1st","2nd"],"range":[[1,0],[9,6],[1,0]]},"legend":null},
     "strokeWidth":{"field":"s","type":"nominal","scale":{"domain":["atom","1st","2nd"],"range":[1.8,1.3,1.5]},"legend":null}}},
   {"data":{"name":"xt"},"mark":{"type":"tick","orient":"vertical","color":"black","thickness":1,"clip":true},
    "encoding":{"x":{"field":"v","type":"quantitative","scale":{"domain":[0,600],"nice":false,"zero":false},"axis":null},"y":{"datum":0,"type":"quantitative","scale":{"domain":[0,0.5],"nice":false,"zero":false},"axis":null},"size":{"field":"m","type":"ordinal","scale":{"domain":["major","minor"],"range":[16,8]},"legend":null}}},
   {"data":{"name":"xt"},"mark":{"type":"tick","orient":"vertical","color":"black","thickness":1,"clip":true},
    "encoding":{"x":{"field":"v","type":"quantitative","scale":{"domain":[0,600],"nice":false,"zero":false},"axis":null},"y":{"datum":0.5,"type":"quantitative","scale":{"domain":[0,0.5],"nice":false,"zero":false},"axis":null},"size":{"field":"m","type":"ordinal","scale":{"domain":["major","minor"],"range":[16,8]},"legend":null}}},
   {"data":{"name":"yt"},"transform":[{"filter":"datum.p===3"}],"mark":{"type":"tick","orient":"horizontal","color":"black","thickness":1,"clip":true},
    "encoding":{"y":{"field":"v","type":"quantitative","scale":{"domain":[0,0.5],"nice":false,"zero":false},"axis":null},"x":{"datum":0,"type":"quantitative","scale":{"domain":[0,600],"nice":false,"zero":false},"axis":null},"size":{"field":"m","type":"ordinal","scale":{"domain":["major","minor"],"range":[16,8]},"legend":null}}},
   {"data":{"name":"yt"},"transform":[{"filter":"datum.p===3"}],"mark":{"type":"tick","orient":"horizontal","color":"black","thickness":1,"clip":true},
    "encoding":{"y":{"field":"v","type":"quantitative","scale":{"domain":[0,0.5],"nice":false,"zero":false},"axis":null},"x":{"datum":600,"type":"quantitative","scale":{"domain":[0,600],"nice":false,"zero":false},"axis":null},"size":{"field":"m","type":"ordinal","scale":{"domain":["major","minor"],"range":[16,8]},"legend":null}}},
   {"data":{"name":"arrows"},"transform":[{"filter":"datum.p===3"}],"mark":{"type":"rule","color":"#222","strokeWidth":1},
    "encoding":{"x":{"field":"x","type":"quantitative","scale":{"domain":[0,600],"nice":false,"zero":false},"axis":null},"x2":{"field":"x2"},
     "y":{"field":"y","type":"quantitative","scale":{"domain":[0,0.5],"nice":false,"zero":false},"axis":null},"y2":{"field":"y2"}}},
   {"data":{"name":"labels"},"transform":[{"filter":"datum.p===3 && datum.kind==='nn'"}],"mark":{"type":"text","font":"Liberation Sans","fontSize":23,"align":"left","baseline":"alphabetic","color":"black"},
    "encoding":{"x":{"field":"x","type":"quantitative","scale":{"domain":[0,600],"nice":false,"zero":false},"axis":null},
     "y":{"field":"y","type":"quantitative","scale":{"domain":[0,0.5],"nice":false,"zero":false},"axis":null},"text":{"field":"text"}}},
   {"data":{"name":"labels"},"transform":[{"filter":"datum.p===3 && datum.kind==='probe'"}],"mark":{"type":"text","font":"Liberation Sans","fontSize":27,"align":"left","baseline":"alphabetic","color":"black"},
    "encoding":{"x":{"field":"x","type":"quantitative","scale":{"domain":[0,600],"nice":false,"zero":false},"axis":null},
     "y":{"field":"y","type":"quantitative","scale":{"domain":[0,0.5],"nice":false,"zero":false},"axis":null},"text":{"field":"text"}}},
   {"data":{"name":"bars"},"transform":[{"filter":"datum.p===3"}],"mark":{"type":"rule","color":"#888","opacity":0.5,"strokeWidth":6,"yOffset":4,"xOffset":1},
    "encoding":{"x":{"field":"x","type":"quantitative","scale":{"domain":[0,600],"nice":false,"zero":false},"axis":null},"x2":{"field":"x2"},
     "y":{"field":"y","type":"quantitative","scale":{"domain":[0,0.5],"nice":false,"zero":false},"axis":null}}},
   {"data":{"name":"bars"},"transform":[{"filter":"datum.p===3"}],"mark":{"type":"rule","color":"#ff0000","strokeWidth":7},
    "encoding":{"x":{"field":"x","type":"quantitative","scale":{"domain":[0,600],"nice":false,"zero":false},"axis":null},"x2":{"field":"x2"},
     "y":{"field":"y","type":"quantitative","scale":{"domain":[0,0.5],"nice":false,"zero":false},"axis":null}}},
   {"data":{"name":"labels"},"transform":[{"filter":"datum.p===3 && datum.kind==='atom'"}],"mark":{"type":"text","font":"Lato","fontSize":34,"align":"left","baseline":"alphabetic","color":"#0000ff"},
    "encoding":{"x":{"field":"x","type":"quantitative","scale":{"domain":[0,600],"nice":false,"zero":false},"axis":null},
     "y":{"field":"y","type":"quantitative","scale":{"domain":[0,0.5],"nice":false,"zero":false},"axis":null},"text":{"field":"text"}}},
   {"data":{"name":"blocks"},"transform":[{"filter":"datum.dir==='down'"}],"mark":{"type":"point","shape":"M -0.26 -1 L 0.26 -1 L 0.26 0.4 L 0.53 0.4 L 0 1 L -0.53 0.4 L -0.26 0.4 Z","size":11449,"filled":true,"color":"#777","opacity":0.45,"strokeWidth":0,"xOffset":2,"yOffset":3,"clip":false},
    "encoding":{"x":{"field":"x","type":"quantitative","scale":{"domain":[0,600],"nice":false,"zero":false},"axis":null},"y":{"field":"y","type":"quantitative","scale":{"domain":[0,0.5],"nice":false,"zero":false},"axis":null}}},
   {"data":{"name":"blocks"},"transform":[{"filter":"datum.dir==='down'"}],"mark":{"type":"point","shape":"M -0.26 -1 L 0.26 -1 L 0.26 0.4 L 0.53 0.4 L 0 1 L -0.53 0.4 L -0.26 0.4 Z","size":11449,"filled":true,"color":"#ff0000","opacity":1,"stroke":"white","strokeWidth":1.5,"clip":false},
    "encoding":{"x":{"field":"x","type":"quantitative","scale":{"domain":[0,600],"nice":false,"zero":false},"axis":null},"y":{"field":"y","type":"quantitative","scale":{"domain":[0,0.5],"nice":false,"zero":false},"axis":null}}},
   {"data":{"name":"blocks"},"transform":[{"filter":"datum.dir==='up'"}],"mark":{"type":"point","shape":"M 0 -1 L 1 -0.06 L 0.53 -0.06 L 0.53 1 L -0.53 1 L -0.53 -0.06 L -1 -0.06 Z","size":3249,"filled":true,"color":"#777","opacity":0.45,"strokeWidth":0,"xOffset":2,"yOffset":3,"clip":false},
    "encoding":{"x":{"field":"x","type":"quantitative","scale":{"domain":[0,600],"nice":false,"zero":false},"axis":null},"y":{"field":"y","type":"quantitative","scale":{"domain":[0,0.5],"nice":false,"zero":false},"axis":null}}},
   {"data":{"name":"blocks"},"transform":[{"filter":"datum.dir==='up'"}],"mark":{"type":"point","shape":"M 0 -1 L 1 -0.06 L 0.53 -0.06 L 0.53 1 L -0.53 1 L -0.53 -0.06 L -1 -0.06 Z","size":3249,"filled":true,"color":"#ff0000","opacity":1,"stroke":"white","strokeWidth":1.5,"clip":false},
    "encoding":{"x":{"field":"x","type":"quantitative","scale":{"domain":[0,600],"nice":false,"zero":false},"axis":null},"y":{"field":"y","type":"quantitative","scale":{"domain":[0,0.5],"nice":false,"zero":false},"axis":null}}}
  ]}
  ]}
 ]}
]},
{"width":4,"height":1323,"view":{"stroke":null},"data":{"name":"one"},"mark":{"type":"rect","color":"#09649a"},
 "encoding":{"x":{"datum":0,"type":"quantitative","scale":{"domain":[0,1],"nice":false},"axis":null},"x2":{"datum":1},"y":{"datum":0,"type":"quantitative","scale":{"domain":[0,1],"nice":false},"axis":null},"y2":{"datum":1}}}
]}
]
}
